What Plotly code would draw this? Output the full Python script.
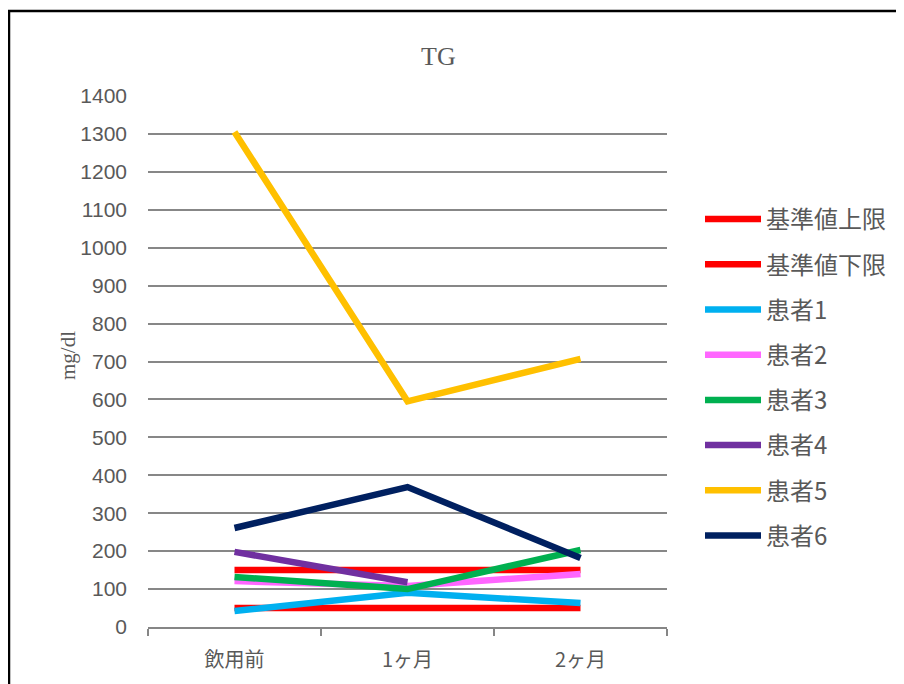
import plotly.graph_objects as go

categories = ["飲用前", "1ヶ月", "2ヶ月"]
upper_limit = [150, 150, 150]
lower_limit = [50, 50, 50]
patient1 = [42, 90, 63]
patient2 = [121, 108, 140]
patient3 = [132, 100, 203]
patient4 = [198, 118, None]
patient5 = [1305, 595, 707]
patient6 = [261, 369, 182]
y_ticks = list(range(0, 1401, 100))

series = [
    ("基準値上限", upper_limit, "#FF0000"),
    ("基準値下限", lower_limit, "#FF0000"),
    ("患者1", patient1, "#00B0F0"),
    ("患者2", patient2, "#FF66FF"),
    ("患者3", patient3, "#00B050"),
    ("患者4", patient4, "#7030A0"),
    ("患者5", patient5, "#FFC000"),
    ("患者6", patient6, "#002060"),
]

OFF = 8  # page body margin
W, H = 904, 684
L, R, T, B = 148 - OFF, 667 - OFF, 96 - OFF, 627 - OFF
pw, ph = R - L, B - T

def px(xp):
    return (xp - OFF - L) / pw

def py(yp):
    return (B - (yp - OFF)) / ph

fig = go.Figure()
for i, (name, vals, col) in enumerate(series):
    fig.add_trace(go.Scatter(
        x=categories, y=vals, name=name, mode="lines",
        line=dict(color=col, width=6.5),
        legendgroup=f"g{i}",
        connectgaps=False,
    ))

sans = "Liberation Sans, Noto Sans CJK JP, sans-serif"
serif = "Liberation Serif, DejaVu Serif, serif"

fig.update_layout(
    width=W, height=H,
    margin=dict(l=L, r=W - R, t=T, b=H - B),
    paper_bgcolor="white", plot_bgcolor="white",
    showlegend=True,
    legend=dict(
        x=px(700), y=py(197), xanchor="left", yanchor="top",
        font=dict(family="Noto Sans CJK JP, sans-serif", size=24, color="#595959"),
        tracegroupgap=11, traceorder="grouped",
        itemwidth=56,
        bgcolor="rgba(0,0,0,0)",
    ),
    xaxis=dict(
        type="category", range=[-0.5, 2.5],
        showgrid=False, showline=True, linecolor="#868686", linewidth=2,
        ticks="outside", tickson="boundaries", ticklen=7, tickcolor="#868686", tickwidth=2,
        tickfont=dict(family="Noto Sans CJK JP, sans-serif", size=20, color="#595959"),
        ticklabelstandoff=14,
        fixedrange=True,
    ),
    yaxis=dict(
        range=[0, 1400], tickvals=y_ticks,
        showgrid=True, gridcolor="#878787", gridwidth=2,
        showline=False, zeroline=False, ticks="",
        tickfont=dict(family=sans, size=21, color="#595959"),
        ticklabelstandoff=20,
        fixedrange=True,
    ),
    annotations=[
        dict(text="TG", x=px(438), y=py(57), xref="paper", yref="paper",
             xanchor="center", yanchor="middle", showarrow=False,
             font=dict(family=serif, size=26, color="#595959")),
        dict(text="mg/dl", x=px(68), y=py(356), xref="paper", yref="paper",
             xanchor="center", yanchor="middle", showarrow=False, textangle=-90,
             font=dict(family=serif, size=21, color="#595959")),
    ],
    shapes=[
        dict(type="rect", xref="paper", yref="paper",
             x0=px(9), x1=px(925), y0=py(11), y1=py(710),
             line=dict(color="black", width=2.5), fillcolor="rgba(0,0,0,0)", layer="above"),
    ],
)

fig.write_html("out.html")
